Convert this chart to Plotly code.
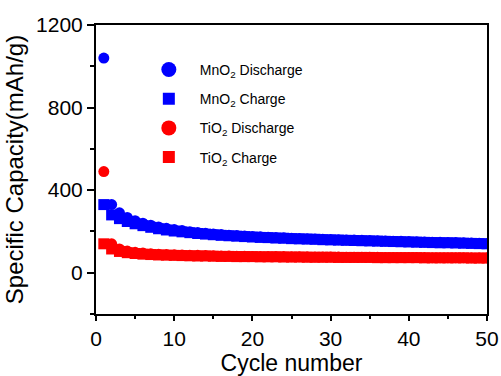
import plotly.graph_objects as go

cycles = list(range(1, 51))
mno2_discharge = [1040, 330, 290, 268, 252, 240, 230, 222, 215, 209,
                  204, 199, 195, 191, 188, 185, 182, 180, 178, 176,
                  174, 172, 170, 169, 167, 166, 164, 163, 162, 161,
                  160, 159, 158, 157, 156, 155, 154, 153, 152, 151,
                  150, 149, 148, 147, 146, 146, 145, 144, 143, 142]
mno2_charge = [330, 280, 262, 248, 237, 228, 220, 213, 207, 202,
               198, 194, 190, 187, 184, 181, 179, 177, 175, 173,
               171, 170, 168, 167, 165, 164, 163, 162, 160, 159,
               158, 157, 156, 155, 154, 153, 152, 151, 150, 149,
               148, 147, 146, 145, 145, 144, 143, 142, 141, 140]
tio2_discharge = [490, 140, 115, 105, 99, 95, 92, 90, 88, 87,
                  86, 85, 84, 83, 82, 81, 81, 80, 80, 79,
                  79, 78, 78, 78, 77, 77, 77, 76, 76, 76,
                  76, 75, 75, 75, 75, 75, 74, 74, 74, 74,
                  74, 74, 73, 73, 73, 73, 73, 73, 72, 72]
tio2_charge = [140, 115, 103, 97, 93, 90, 88, 86, 85, 84,
               83, 82, 81, 81, 80, 79, 79, 78, 78, 78,
               77, 77, 77, 76, 76, 76, 75, 75, 75, 75,
               74, 74, 74, 74, 74, 73, 73, 73, 73, 73,
               73, 72, 72, 72, 72, 72, 72, 71, 71, 71]

series = [
    ("MnO<sub>2</sub> Discharge", mno2_discharge, "#0000ff", "circle"),
    ("MnO<sub>2</sub> Charge", mno2_charge, "#0000ff", "square"),
    ("TiO<sub>2</sub> Discharge", tio2_discharge, "#ff0000", "circle"),
    ("TiO<sub>2</sub> Charge", tio2_charge, "#ff0000", "square"),
]

fig = go.Figure()
for i, (name, vals, color, sym) in enumerate(series):
    fig.add_trace(go.Scatter(
        x=cycles, y=vals, mode="markers", name=name, showlegend=False,
        marker=dict(color=color, symbol=sym, size=11, line=dict(width=0)),
    ))
# legend entries with larger symbols
for i, (name, vals, color, sym) in enumerate(series):
    fig.add_trace(go.Scatter(
        x=[None], y=[None], mode="markers", name=name, legendgroup=str(i),
        marker=dict(color=color, symbol=sym, size=15 if sym == "circle" else 12,
                    line=dict(width=0)),
    ))

axis_common = dict(
    showline=True, linecolor="black", linewidth=2, mirror=True,
    ticks="outside", tickwidth=2, tickcolor="black",
    showgrid=False, zeroline=False, automargin=False,
    tickfont=dict(family="Arial, Liberation Sans", size=21, color="black"),
)

fig.update_layout(
    width=501, height=376,
    margin=dict(l=96, r=14, t=25, b=62),
    paper_bgcolor="white", plot_bgcolor="white",
    font=dict(family="Arial, Liberation Sans", color="black"),
    xaxis=dict(range=[0, 50], tickvals=[0, 10, 20, 30, 40, 50], ticklen=5,
               minor=dict(ticks="outside", ticklen=3, tickwidth=1.5, tickcolor="black", dtick=5),
               title=dict(text="Cycle number", font=dict(size=23), standoff=4),
               **axis_common),
    yaxis=dict(range=[-200, 1200], tickvals=[0, 400, 800, 1200], ticklen=7,
               minor=dict(ticks="outside", ticklen=4, tickwidth=1.5, tickcolor="black", dtick=200),
               title=dict(text="Specific Capacity(mAh/g)", font=dict(size=24), standoff=6),
               **axis_common),
    legend=dict(x=0.107, y=0.9, xanchor="left", yanchor="top",
                bgcolor="rgba(0,0,0,0)", tracegroupgap=8, itemwidth=52,
                font=dict(size=14, color="black"), traceorder="grouped"),
)

fig.write_html("out.html")
